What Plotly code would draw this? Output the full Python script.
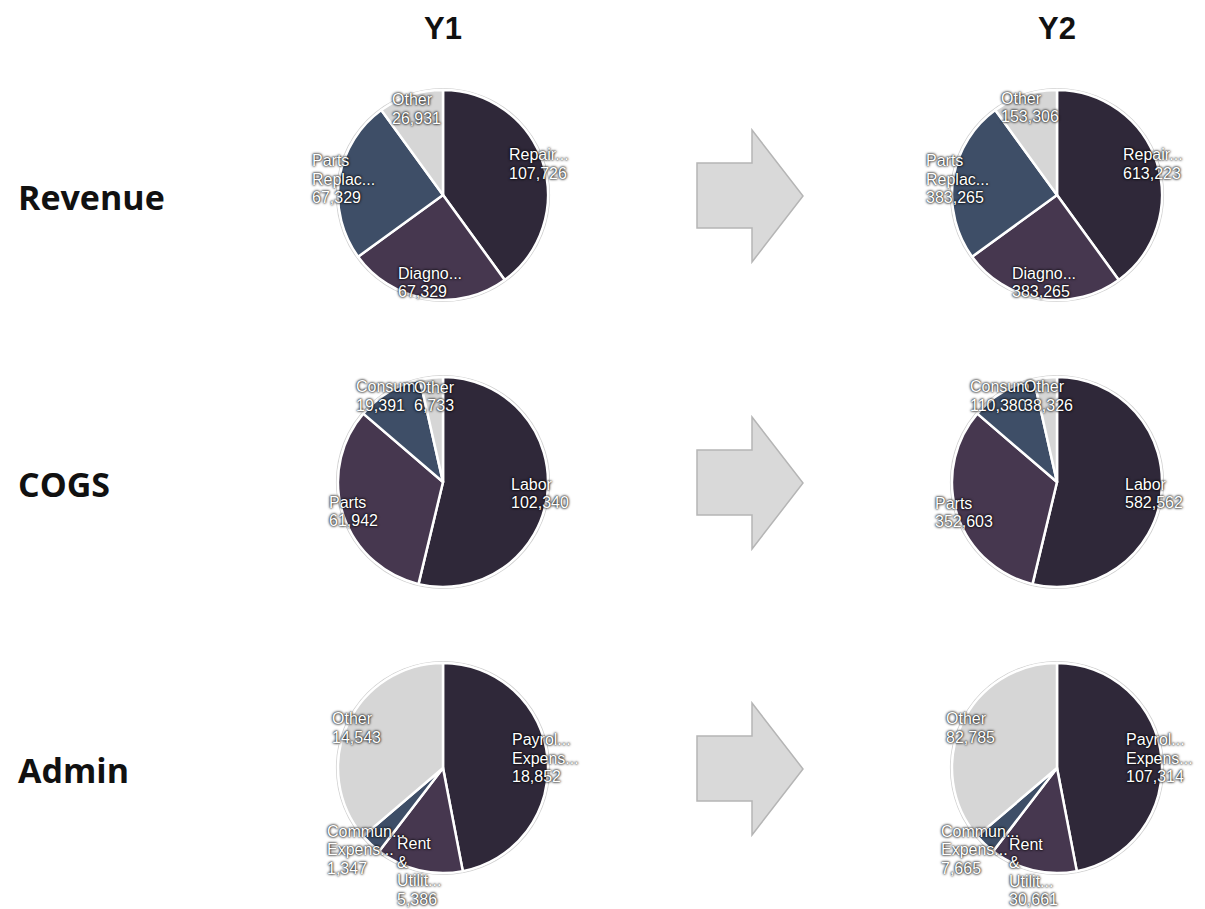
import math
import plotly.graph_objects as go

W, H = 1205, 909

row_names = ["Revenue", "COGS", "Admin"]
col_names = ["Y1", "Y2"]

revenue_labels = ["Repair...", "Diagno...", "Parts<br>Replac...", "Other"]
revenue_y1 = [107726, 67329, 67329, 26931]
revenue_y2 = [613223, 383265, 383265, 153306]

cogs_labels = ["Labor", "Parts", "Consum...", "Other"]
cogs_y1 = [102340, 61942, 19391, 6733]
cogs_y2 = [582562, 352603, 110380, 38326]

admin_labels = ["Payrol...<br>Expens...", "Rent<br>&<br>Utilit...", "Commun...<br>Expens...", "Other"]
admin_y1 = [18852, 5386, 1347, 14543]
admin_y2 = [107314, 30661, 7665, 82785]

slice_colors = ["#2f2839", "#46374f", "#3e4e67", "#d6d6d6"]

rows = [
    (revenue_labels, revenue_y1, revenue_y2),
    (cogs_labels, cogs_y1, cogs_y2),
    (admin_labels, admin_y1, admin_y2),
]

# layout geometry (pixels)
col_cx = [443, 1057]
row_cy = [195, 482, 768]
R = 105
LABEL_FS = 16
LINE_H = 18.5

# approximate Arial / Liberation Sans advance widths (em)
CW = {c: 0.556 for c in "0123456789abdeghnopqu"}
CW.update({",": .278, ".": .278, " ": .278, "&": .667, "c": .5, "k": .5, "s": .5,
           "v": .5, "x": .5, "y": .5, "z": .5, "f": .278, "t": .278, "i": .222,
           "j": .222, "l": .222, "m": .833, "r": .333, "w": .722,
           "C": .722, "D": .722, "E": .667, "L": .556, "O": .778, "P": .667,
           "R": .722, "U": .722})


def text_w(s):
    return sum(CW.get(ch, 0.6) for ch in s) * LABEL_FS


def px_x(x):
    return x / W


def px_y(y):
    return 1 - y / H


fig = go.Figure()
annotations = []
shapes = []
label_font = dict(family="Liberation Sans", size=LABEL_FS, color="white",
                  shadow="0px 0px 3px #000, 0px 0px 2px #000")

for r, (labels, v1, v2) in enumerate(rows):
    for c, vals in enumerate([v1, v2]):
        cx, cy = col_cx[c], row_cy[r]
        shapes.append(dict(type="circle", xref="paper", yref="paper", layer="below",
                           x0=px_x(cx - R - 1.5), x1=px_x(cx + R + 1.5),
                           y0=px_y(cy + R + 1.5), y1=px_y(cy - R - 1.5),
                           line=dict(color="#d2d2d2", width=1.2), fillcolor="white"))
        fig.add_trace(go.Pie(
            labels=labels,
            values=vals,
            sort=False,
            direction="clockwise",
            rotation=0,
            marker=dict(colors=slice_colors, line=dict(color="white", width=2.5)),
            textinfo="none",
            hoverinfo="label+value",
            showlegend=False,
            domain=dict(x=[px_x(cx - R), px_x(cx + R)], y=[px_y(cy + R), px_y(cy - R)]),
        ))
        # data labels, positioned from the slice mid-angles
        total = sum(vals)
        cum = 0.0
        for lab, v in zip(labels, vals):
            mid = (cum + v / 2) / total * 2 * math.pi
            cum += v
            ux, uy = math.sin(mid), -math.cos(mid)
            lines = lab.split("<br>") + [f"{v:,}"]
            hw = max(text_w(s) for s in lines) / 2 + 1
            hh = len(lines) * LINE_H / 2
            dist = 0.62 * R + hw * abs(ux) + hh * abs(uy)
            bx, by = cx + ux * dist, cy + uy * dist
            left, top = bx - hw, by - hh
            for i, line in enumerate(lines):
                annotations.append(dict(
                    text=line, x=px_x(left), y=px_y(top + (i + 0.5) * LINE_H),
                    xref="paper", yref="paper", xanchor="left", yanchor="middle",
                    showarrow=False, font=label_font))

for r in range(3):
    dy = row_cy[r] - 195
    pts = [(697, 163), (752, 163), (752, 130), (803, 196), (752, 262), (752, 228), (697, 228)]
    path = "M " + " L ".join(f"{px_x(x):.5f},{px_y(y + dy):.5f}" for x, y in pts) + " Z"
    shapes.append(dict(type="path", path=path, xref="paper", yref="paper",
                       fillcolor="#d9d9d9", line=dict(color="#b5b5b5", width=1.5)))

for r, name in enumerate(row_names):
    annotations.append(dict(text=f"<b>{name}</b>", x=px_x(16), y=px_y(row_cy[r] + 2),
                            xref="paper", yref="paper", xanchor="left", yanchor="middle",
                            showarrow=False,
                            font=dict(family="Open Sans", size=34, color="#111111")))
for c, name in enumerate(col_names):
    annotations.append(dict(text=f"<b>{name}</b>", x=px_x(col_cx[c]), y=px_y(28),
                            xref="paper", yref="paper", xanchor="center", yanchor="middle",
                            showarrow=False,
                            font=dict(family="Liberation Sans", size=31, color="#111111")))

fig.update_layout(
    width=W, height=H,
    margin=dict(l=0, r=0, t=0, b=0),
    paper_bgcolor="white",
    plot_bgcolor="white",
    shapes=shapes,
    annotations=annotations,
)

fig.write_html("out.html")
